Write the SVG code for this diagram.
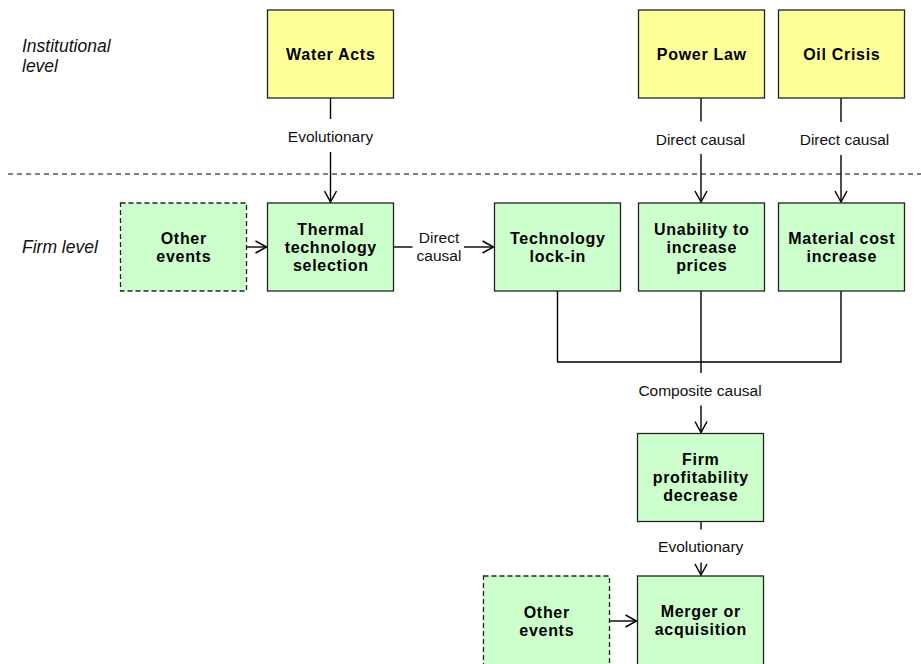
<svg xmlns="http://www.w3.org/2000/svg" width="921" height="664" viewBox="0 0 921 664">
  <style>
    .box { stroke: #222; stroke-width: 1.3; }
    .inst { fill: #FFFF99; }
    .firm { fill: #CCFFCC; }
    .dash { stroke-dasharray: 5 3; }
    .name { font-family: "Liberation Sans", Arial, sans-serif; font-size: 16px; letter-spacing: 0.7px; font-weight: bold; fill: #000; text-anchor: middle; }
    .lvl { font-family: "Liberation Sans", Arial, sans-serif; font-size: 17.5px; font-style: italic; fill: #111; }
    .lbl { font-family: "Liberation Sans", Arial, sans-serif; font-size: 15.5px; fill: #111; text-anchor: middle; }
    .wire { fill: none; stroke: #000; stroke-width: 1.4; }
  </style>
  <defs>
    <marker id="arrow" markerUnits="userSpaceOnUse" markerWidth="16" markerHeight="16" viewBox="-13 -8 16 16" refX="0" refY="0" orient="auto">
      <path d="M-11,-6 L0,0 L-11,6" fill="none" stroke="#000" stroke-width="1.5"/>
    </marker>
  </defs>

  <rect width="921" height="664" fill="#fff"/>

  <!-- level captions and separator -->
  <g id="levels">
    <text class="lvl" x="22" y="52">Institutional</text>
    <text class="lvl" x="22" y="72">level</text>
    <text class="lvl" x="22" y="253">Firm level</text>
    <line x1="8" y1="174" x2="921" y2="174" stroke="#000" stroke-width="1.2" stroke-dasharray="5 4"/>
  </g>

  <!-- connectors -->
  <g id="connectors">
    <line class="wire" x1="330.5" y1="98" x2="330.5" y2="119"/>
    <line class="wire" x1="330.5" y1="152" x2="330.5" y2="202" marker-end="url(#arrow)"/>
    <text class="lbl" x="330.5" y="142.3">Evolutionary</text>

    <line class="wire" x1="701" y1="98" x2="701" y2="121.5"/>
    <line class="wire" x1="701" y1="154" x2="701" y2="202" marker-end="url(#arrow)"/>
    <text class="lbl" x="700.5" y="145.3">Direct causal</text>

    <line class="wire" x1="841" y1="98" x2="841" y2="122"/>
    <line class="wire" x1="841" y1="155" x2="841" y2="202" marker-end="url(#arrow)"/>
    <text class="lbl" x="844.5" y="145.3">Direct causal</text>

    <line class="wire" x1="246.5" y1="247" x2="266.5" y2="247" marker-end="url(#arrow)"/>

    <line class="wire" x1="393.5" y1="247" x2="412.5" y2="247"/>
    <line class="wire" x1="464" y1="247" x2="493.5" y2="247" marker-end="url(#arrow)"/>
    <text class="lbl" x="439" y="242.7">Direct</text>
    <text class="lbl" x="439" y="261">causal</text>

    <path class="wire" d="M557.5,291 V362 H841 V291"/>
    <line class="wire" x1="701" y1="291" x2="701" y2="373"/>
    <line class="wire" x1="701" y1="405.5" x2="701" y2="432.5" marker-end="url(#arrow)"/>
    <text class="lbl" x="700" y="396">Composite causal</text>

    <line class="wire" x1="701" y1="521.5" x2="701" y2="529.5"/>
    <line class="wire" x1="701" y1="562.5" x2="701" y2="575" marker-end="url(#arrow)"/>
    <text class="lbl" x="700.7" y="552.3">Evolutionary</text>

    <line class="wire" x1="609.5" y1="621" x2="636.5" y2="621" marker-end="url(#arrow)"/>
  </g>

  <!-- institutional-level events -->
  <g id="water-acts">
    <rect class="box inst" x="267.5" y="10" width="126" height="88"/>
    <text class="name" x="330.8" y="60">Water Acts</text>
  </g>
  <g id="power-law">
    <rect class="box inst" x="638.5" y="10" width="126" height="88"/>
    <text class="name" x="701.8" y="60">Power Law</text>
  </g>
  <g id="oil-crisis">
    <rect class="box inst" x="778.5" y="10" width="126" height="88"/>
    <text class="name" x="841.8" y="60">Oil Crisis</text>
  </g>

  <!-- firm-level events -->
  <g id="other-events-1">
    <rect class="box firm dash" x="120.5" y="203" width="126" height="88"/>
    <text class="name" x="183.8" y="244">Other</text>
    <text class="name" x="183.8" y="262">events</text>
  </g>
  <g id="thermal-selection">
    <rect class="box firm" x="267.5" y="203" width="126" height="88"/>
    <text class="name" x="330.8" y="235">Thermal</text>
    <text class="name" x="330.8" y="253">technology</text>
    <text class="name" x="330.8" y="271">selection</text>
  </g>
  <g id="technology-lock-in">
    <rect class="box firm" x="494.5" y="203" width="126" height="88"/>
    <text class="name" x="557.8" y="244">Technology</text>
    <text class="name" x="557.8" y="262">lock-in</text>
  </g>
  <g id="unability">
    <rect class="box firm" x="638.5" y="203" width="126" height="88"/>
    <text class="name" x="701.8" y="235">Unability to</text>
    <text class="name" x="701.8" y="253">increase</text>
    <text class="name" x="701.8" y="271">prices</text>
  </g>
  <g id="material-cost">
    <rect class="box firm" x="778.5" y="203" width="126" height="88"/>
    <text class="name" x="841.8" y="244">Material cost</text>
    <text class="name" x="841.8" y="262">increase</text>
  </g>
  <g id="profitability">
    <rect class="box firm" x="637.5" y="433.5" width="126" height="88"/>
    <text class="name" x="700.8" y="465">Firm</text>
    <text class="name" x="700.8" y="483">profitability</text>
    <text class="name" x="700.8" y="501">decrease</text>
  </g>
  <g id="other-events-2">
    <rect class="box firm dash" x="483.5" y="576" width="126" height="92"/>
    <text class="name" x="546.8" y="618">Other</text>
    <text class="name" x="546.8" y="636">events</text>
  </g>
  <g id="merger">
    <rect class="box firm" x="637.5" y="576" width="126" height="92"/>
    <text class="name" x="700.8" y="617">Merger or</text>
    <text class="name" x="700.8" y="635">acquisition</text>
  </g>
</svg>
